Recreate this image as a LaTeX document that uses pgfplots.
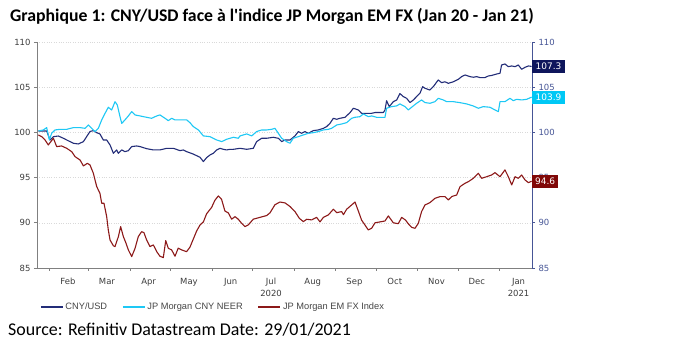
\documentclass[border=0pt]{standalone}
\usepackage{fontspec}
\setmainfont{Carlito}
\newfontfamily\calibri{Carlito}
\newfontfamily\tickfont{DejaVu Sans}
\newfontfamily\legfont{Liberation Sans}
\usepackage{pgfplots}
\pgfplotsset{compat=1.18}
\definecolor{navyl}{RGB}{35,45,120}
\definecolor{navyb}{RGB}{14,22,92}
\definecolor{cyanl}{RGB}{30,200,245}
\definecolor{cyanb}{RGB}{0,200,245}
\definecolor{redl}{RGB}{140,25,25}
\definecolor{redb}{RGB}{128,8,8}
\definecolor{raxis}{RGB}{70,85,150}
\definecolor{laxis}{RGB}{128,128,128}
\definecolor{ltext}{RGB}{60,60,60}
\definecolor{legtext}{RGB}{70,70,70}
\begin{document}
\begin{tikzpicture}
\path[use as bounding box, fill=white] (0,0) rectangle (694bp,353bp);
\node[anchor=base west, font=\calibri\bfseries\fontsize{17.8}{20}\selectfont, inner sep=0pt] at (10bp,331bp) {Graphique 1: CNY/USD face à l'indice JP Morgan EM FX (Jan 20 - Jan 21)};
\node[anchor=base west, font=\calibri\fontsize{18}{20}\selectfont, inner sep=0pt] at (8bp,18bp) {Source: Refinitiv Datastream Date: 29/01/2021};
\begin{axis}[
  at={(37bp,85bp)}, anchor=south west,
  scale only axis, width=495bp, height=226bp,
  xmin=22, xmax=390, ymin=85, ymax=110,
  axis x line*=bottom, axis y line*=left,
  axis line style={laxis},
  tick style={laxis, line width=0.6bp},
  tick align=outside, major tick length=3bp,
  ytick={85,90,95,100,105,110},
  ymajorgrids, grid style={dotted, gray!30},
  xtick={31,60,91,121,152,182,213,244,274,305,335,366},
  xticklabels={},
  extra x ticks={45,74,105,135,166,196,227,258,288,319,349,380},
  extra x tick labels={Feb,Mar,Apr,May,Jun,{Jul\\2020},Aug,Sep,Oct,Nov,Dec,{Jan\\2021}},
  extra x tick style={major tick length=0pt, grid=none,
     tick label style={align=center, anchor=north, yshift=-7bp}},
  /pgf/number format/assume math mode=true,
  tick label style={font=\tickfont\fontsize{8.5}{12}\selectfont, text=ltext},
  legend style={draw=none, fill=none, font=\legfont\fontsize{9.3}{10}\selectfont\color{legtext},
     legend columns=3, at={(axis description cs:0.0,-0.172)}, anchor=west,
     /tikz/every even column/.append style={column sep=13bp}},
  legend image code/.code={\draw[#1, line width=1.3bp] (0bp,0bp) -- (22bp,0bp);},
  every axis plot/.append style={line width=1.1bp, line join=round},
]
\addplot[navyl] coordinates {(23,100.16)(29.2,100.16)(31.7,99.16)(34.2,99.53)(37.9,99.6)(41.6,99.35)(44.1,99.16)(49,98.8)(52.7,98.72)(56.5,98.98)(58.9,99.53)(61.4,100.1)(63.9,100.2)(66.4,99.97)(68.8,99.83)(71.3,99.16)(73.8,99.16)(76.3,98.61)(78.8,97.69)(81.2,98.06)(82.5,97.69)(85,98.06)(87.4,97.87)(89.9,97.98)(92.4,98.43)(96.1,98.5)(98.6,98.43)(103.5,98.2)(108.5,98.06)(113.4,98.06)(118.4,98.24)(123.4,98.24)(128.3,97.98)(130.8,98.06)(133.3,97.87)(138.2,97.6)(143.2,97.25)(145.7,96.77)(148.1,97.21)(150.6,97.5)(153.1,97.69)(155.6,98.06)(158,98.24)(160.5,98.13)(163,98.06)(165.5,98.13)(168,98.13)(172.9,98.24)(177.9,98.13)(182.8,98.24)(185.3,98.98)(189,99.35)(192.7,99.35)(197.7,99.46)(201.4,99.35)(203.9,98.98)(206.4,99.16)(210.1,99.16)(213.8,99.61)(216.3,100.09)(218.7,99.9)(221.2,100.09)(223.7,99.9)(227.4,100.2)(231.1,100.27)(234.9,100.45)(237.3,100.64)(239.8,101.0)(242.3,101.56)(244.8,101.45)(247.2,101.56)(251,101.67)(254.7,102.19)(257.2,102.67)(260.9,102.48)(263.3,102.11)(265.8,102.1)(268.3,102.11)(270.8,102.11)(273.3,102.2)(277,102.2)(279.5,102.2)(280.7,102.48)(281.9,103.5)(283.9,102.85)(286.9,103.4)(289.4,103.59)(291.8,104.3)(294.3,103.96)(296.8,103.77)(299.3,103.3)(301.8,103.59)(304.2,103.96)(306.7,104.33)(308.7,105.06)(310.4,104.88)(314.1,104.69)(316.6,105.06)(320.3,105.8)(322.8,105.5)(325.3,105.6)(327.8,105.43)(331.5,105.6)(335.2,105.87)(337.7,106.17)(340.2,106.35)(343.9,106.17)(346.4,106.1)(348.9,106.17)(351.3,106.06)(355,106.06)(357.5,106.24)(360,106.3)(363.7,106.46)(366.2,106.54)(367.4,107.46)(369.9,107.57)(372.4,107.27)(374.9,107.35)(377.4,107.27)(379.8,107.46)(382.3,106.98)(384.8,107.2)(387.3,107.35)(389.7,107.3)};
\addlegendentry{CNY/USD}
\addplot[cyanl] coordinates {(23,100.16)(26.7,100.27)(29.2,100.53)(31.2,99.16)(32.9,99.9)(35.4,100.27)(39.1,100.34)(44.1,100.34)(49,100.53)(54,100.53)(57.7,100.45)(60.2,100.82)(62.6,100.45)(65.1,100.09)(67.6,100.45)(70.1,101.38)(72.6,102.11)(75,102.78)(77.5,102.48)(80,103.4)(81.7,103.03)(83.7,101.74)(85,101.0)(87.4,101.38)(89.9,101.82)(92.4,102.3)(94.9,101.93)(98.6,101.82)(103.5,101.67)(107.2,101.56)(111,101.82)(113.4,101.93)(117.2,101.56)(119.6,101.3)(122.1,101.56)(124.6,101.38)(128.3,101.38)(133.3,101.38)(135.7,101.08)(138.2,100.64)(142,100.27)(145.7,99.61)(150.6,99.53)(155.6,99.16)(159.3,98.98)(163,99.24)(168,99.46)(171.7,99.35)(172.9,99.61)(177.9,99.83)(181.6,99.61)(185.3,100.09)(189,100.27)(192.7,100.27)(196.4,100.34)(198.9,100.45)(201.4,99.9)(203.9,99.35)(207.6,98.98)(210.1,98.8)(212.5,99.35)(216.3,99.53)(220,99.72)(223.7,99.9)(227.4,99.97)(231.1,100.09)(234.9,100.27)(238.6,100.34)(241,100.45)(244.8,100.82)(248.5,100.93)(252.2,101.08)(255.9,101.56)(258.4,101.67)(262.1,101.74)(264.6,102.04)(268.3,101.74)(270.8,101.82)(274.5,101.67)(278.2,101.67)(280.7,101.67)(281.9,102.67)(285.6,102.85)(289.4,102.93)(291.8,103.15)(295.6,102.85)(298,102.48)(300.5,102.78)(304.2,103.22)(307.9,103.59)(310.4,103.3)(314.1,103.22)(317.9,103.4)(320.3,103.77)(324.1,103.59)(326.6,103.4)(331.5,103.4)(336.5,103.29)(341.4,103.15)(346.4,102.92)(350.1,102.67)(353.8,102.85)(358.8,102.78)(362.5,102.48)(365,102.3)(366.2,103.4)(369.9,103.4)(373.6,103.77)(376.1,103.51)(378.6,103.66)(382.3,103.59)(386,103.66)(389.7,103.9)};
\addlegendentry{JP Morgan CNY NEER\hspace{28bp}}
\addplot[redl] coordinates {(23,99.72)(25.5,99.53)(28,99.16)(30.4,98.61)(34.2,99.35)(36.6,98.43)(40.3,98.5)(44.1,98.24)(47.8,97.87)(50.3,97.32)(54,96.95)(56.5,96.29)(59.4,96.58)(61.4,96.4)(63.9,95.48)(66.4,94.0)(68.8,93.26)(70.1,92.16)(71.8,92.16)(73.8,90.68)(75,89.21)(76.3,88.1)(78.8,87.45)(80,87.37)(82.5,88.47)(84.2,89.58)(86.2,88.47)(88.2,87.73)(89.9,87.0)(92.4,86.26)(94.9,87.18)(97.3,88.47)(99.8,89.02)(101.5,88.91)(103.5,88.1)(106,87.37)(108.5,87.55)(111,86.81)(113.4,86.3)(115.9,86.15)(117.7,88.03)(119.6,87.18)(122.1,87.0)(124.6,86.3)(127,87.2)(129.5,87.0)(133.2,86.81)(135.7,87.3)(138.2,88.2)(140.7,89.1)(143.2,89.76)(145.7,90.1)(148.1,91.0)(151.8,91.7)(154.3,92.5)(156.8,92.97)(159.2,92.6)(161.7,91.3)(164.2,91.1)(166.7,90.4)(169.2,90.68)(171.6,90.4)(174.1,89.95)(176.6,89.58)(179,89.76)(182.8,90.4)(187.7,90.6)(192.7,90.8)(195.2,91.1)(198.9,92.0)(202.6,92.3)(206.4,92.2)(210.1,91.8)(213.8,91.24)(217,90.5)(220,90.13)(222.5,90.39)(226.2,90.32)(229.9,90.6)(232.4,90.1)(234.9,90.6)(238.6,90.87)(242.3,91.5)(244.8,91.12)(248.5,91.24)(249.8,90.9)(252.2,91.5)(255.9,91.97)(258.4,92.3)(260.9,91.3)(263.3,90.3)(265.8,89.76)(268.3,89.21)(270.8,89.4)(273.3,90.0)(277,90.1)(280.7,90.2)(283.2,90.76)(286.9,90.0)(290.6,89.9)(293.1,90.6)(296,90.3)(298,89.9)(300.5,89.5)(303,89.39)(305.5,89.95)(307.9,91.24)(310.4,91.97)(314.1,92.23)(317.9,92.71)(321.6,92.9)(325.3,92.9)(327.8,92.53)(330.3,92.9)(334,93.08)(336.5,94.0)(340.2,94.37)(342.7,94.55)(346.4,94.92)(350.1,95.48)(352.6,94.92)(356.3,95.1)(360,95.29)(362.5,95.55)(366.2,95.1)(369.9,95.85)(372.4,95.1)(374.9,94.19)(377.4,95.1)(379.8,94.92)(382.3,95.29)(384.8,94.74)(387.3,94.44)(389.7,94.6)};
\addlegendentry{JP Morgan EM FX Index}
\end{axis}
\begin{axis}[
  at={(37bp,85bp)}, anchor=south west,
  scale only axis, width=495bp, height=226bp,
  xmin=22, xmax=390, ymin=85, ymax=110,
  axis y line*=right, axis x line=none,
  axis line style={raxis, line width=0.8bp},
  tick style={raxis, line width=0.6bp},
  tick align=outside, major tick length=3bp,
  ytick={85,90,95,100,105,110},
  /pgf/number format/assume math mode=true,
  yticklabel style={font=\tickfont\fontsize{8.5}{10}\selectfont, text=raxis},
  clip=false,
]
\node[anchor=west, fill=navyb, text=white, inner xsep=3.5bp, inner ysep=0pt, minimum height=13bp, font=\tickfont\fontsize{9}{10}\selectfont] at (axis cs:390,107.3) {107.3};
\node[anchor=west, fill=cyanb, text=white, inner xsep=3.5bp, inner ysep=0pt, minimum height=13bp, font=\tickfont\fontsize{9}{10}\selectfont] at (axis cs:390,103.9) {103.9};
\node[anchor=west, fill=redb, text=white, inner xsep=3bp, inner ysep=0pt, minimum height=13bp, font=\tickfont\fontsize{9}{10}\selectfont] at (axis cs:390,94.6) {94.6};
\end{axis}
\end{tikzpicture}
\end{document}
